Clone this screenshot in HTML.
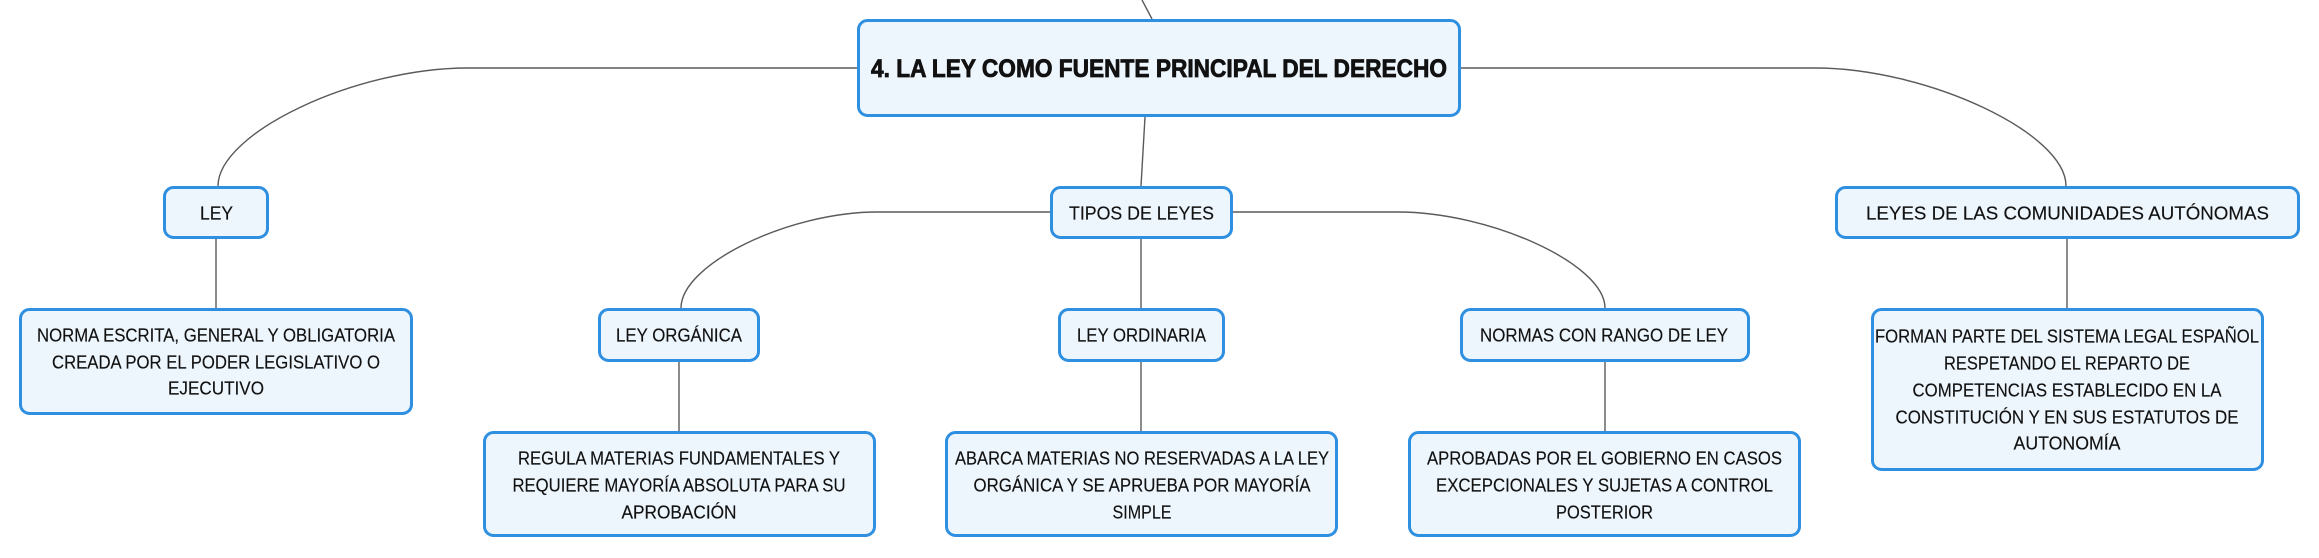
<!DOCTYPE html>
<html>
<head>
<meta charset="utf-8">
<style>
  html, body { margin: 0; padding: 0; background: #ffffff; }
  body { width: 2319px; height: 558px; overflow: hidden; }
  svg { display: block; }
  .box { fill: #eef6fd; stroke: #2f8fe0; stroke-width: 3; }
  .ln { fill: none; stroke: #5a5a5a; stroke-width: 1.4; }
  text { font-family: "Liberation Sans", "DejaVu Sans", sans-serif; font-size: 18px; fill: #111; stroke: #111; stroke-width: 0.15; }
  .root { font-size: 25px; font-weight: bold; stroke-width: 0.8; }
</style>
</head>
<body>
<svg width="2319" height="558" viewBox="0 0 2319 558" xmlns="http://www.w3.org/2000/svg">
  <!-- connectors -->
  <path class="ln" d="M1142 0 L1152 19"/>
  <path class="ln" d="M859 68 L468 68 C355 68 218 133 218 186"/>
  <path class="ln" d="M1461 68 L1815 68 C1927 68 2066 133 2066 186"/>
  <path class="ln" d="M1145 117 L1141 186"/>
  <path class="ln" d="M1050 212 L877 212 C789 212 681 264 681 308"/>
  <path class="ln" d="M1233 212 L1398 212 C1490 212 1605 264 1605 308"/>
  <path class="ln" d="M216 239 L216 308"/>
  <path class="ln" d="M1141 239 L1141 308"/>
  <path class="ln" d="M2067 239 L2067 308"/>
  <path class="ln" d="M679 362 L679 431"/>
  <path class="ln" d="M1141 362 L1141 431"/>
  <path class="ln" d="M1605 362 L1605 431"/>

  <!-- boxes -->
  <rect class="box" x="858.5" y="20.5" width="601" height="95" rx="9"/>
  <rect class="box" x="164.5" y="187.5" width="103" height="50" rx="9"/>
  <rect class="box" x="1051.5" y="187.5" width="180" height="50" rx="9"/>
  <rect class="box" x="1836.5" y="187.5" width="462" height="50" rx="9"/>
  <rect class="box" x="20.5" y="309.5" width="391" height="104" rx="9"/>
  <rect class="box" x="599.5" y="309.5" width="159" height="51" rx="9"/>
  <rect class="box" x="1059.5" y="309.5" width="164" height="51" rx="9"/>
  <rect class="box" x="1461.5" y="309.5" width="287" height="51" rx="9"/>
  <rect class="box" x="1872.5" y="309.5" width="390" height="160" rx="9"/>
  <rect class="box" x="484.5" y="432.5" width="390" height="103" rx="9"/>
  <rect class="box" x="946.5" y="432.5" width="390" height="103" rx="9"/>
  <rect class="box" x="1409.5" y="432.5" width="390" height="103" rx="9"/>

  <!-- texts -->
  <text class="root" x="1159" y="77" text-anchor="middle" textLength="576" lengthAdjust="spacingAndGlyphs">4. LA LEY COMO FUENTE PRINCIPAL DEL DERECHO</text>

  <text x="216.5" y="219.5" text-anchor="middle" textLength="33" lengthAdjust="spacingAndGlyphs">LEY</text>
  <text x="1141.5" y="219.5" text-anchor="middle" textLength="145" lengthAdjust="spacingAndGlyphs">TIPOS DE LEYES</text>
  <text x="2067.5" y="219.5" text-anchor="middle" textLength="403" lengthAdjust="spacingAndGlyphs">LEYES DE LAS COMUNIDADES AUTÓNOMAS</text>

  <text x="216" y="341.5" text-anchor="middle" textLength="358" lengthAdjust="spacingAndGlyphs">NORMA ESCRITA, GENERAL Y OBLIGATORIA</text>
  <text x="216" y="368.5" text-anchor="middle" textLength="328" lengthAdjust="spacingAndGlyphs">CREADA POR EL PODER LEGISLATIVO O</text>
  <text x="216" y="394.5" text-anchor="middle" textLength="96" lengthAdjust="spacingAndGlyphs">EJECUTIVO</text>

  <text x="679" y="341.5" text-anchor="middle" textLength="126" lengthAdjust="spacingAndGlyphs">LEY ORGÁNICA</text>
  <text x="1141.5" y="341.5" text-anchor="middle" textLength="129" lengthAdjust="spacingAndGlyphs">LEY ORDINARIA</text>
  <text x="1604" y="341.5" text-anchor="middle" textLength="248" lengthAdjust="spacingAndGlyphs">NORMAS CON RANGO DE LEY</text>

  <text x="2067" y="342.5" text-anchor="middle" textLength="384" lengthAdjust="spacingAndGlyphs">FORMAN PARTE DEL SISTEMA LEGAL ESPAÑOL</text>
  <text x="2067" y="369.5" text-anchor="middle" textLength="246" lengthAdjust="spacingAndGlyphs">RESPETANDO EL REPARTO DE</text>
  <text x="2067" y="396.5" text-anchor="middle" textLength="309" lengthAdjust="spacingAndGlyphs">COMPETENCIAS ESTABLECIDO EN LA</text>
  <text x="2067" y="423.5" text-anchor="middle" textLength="343" lengthAdjust="spacingAndGlyphs">CONSTITUCIÓN Y EN SUS ESTATUTOS DE</text>
  <text x="2067" y="449.5" text-anchor="middle" textLength="107" lengthAdjust="spacingAndGlyphs">AUTONOMÍA</text>

  <text x="679" y="464.5" text-anchor="middle" textLength="322" lengthAdjust="spacingAndGlyphs">REGULA MATERIAS FUNDAMENTALES Y</text>
  <text x="679" y="491.5" text-anchor="middle" textLength="333" lengthAdjust="spacingAndGlyphs">REQUIERE MAYORÍA ABSOLUTA PARA SU</text>
  <text x="679" y="518.5" text-anchor="middle" textLength="115" lengthAdjust="spacingAndGlyphs">APROBACIÓN</text>

  <text x="1142" y="464.5" text-anchor="middle" textLength="374" lengthAdjust="spacingAndGlyphs">ABARCA MATERIAS NO RESERVADAS A LA LEY</text>
  <text x="1142" y="491.5" text-anchor="middle" textLength="337" lengthAdjust="spacingAndGlyphs">ORGÁNICA Y SE APRUEBA POR MAYORÍA</text>
  <text x="1142" y="518.5" text-anchor="middle" textLength="59" lengthAdjust="spacingAndGlyphs">SIMPLE</text>

  <text x="1604.5" y="464.5" text-anchor="middle" textLength="355" lengthAdjust="spacingAndGlyphs">APROBADAS POR EL GOBIERNO EN CASOS</text>
  <text x="1604.5" y="491.5" text-anchor="middle" textLength="337" lengthAdjust="spacingAndGlyphs">EXCEPCIONALES Y SUJETAS A CONTROL</text>
  <text x="1604.5" y="518.5" text-anchor="middle" textLength="97" lengthAdjust="spacingAndGlyphs">POSTERIOR</text>
</svg>
</body>
</html>
